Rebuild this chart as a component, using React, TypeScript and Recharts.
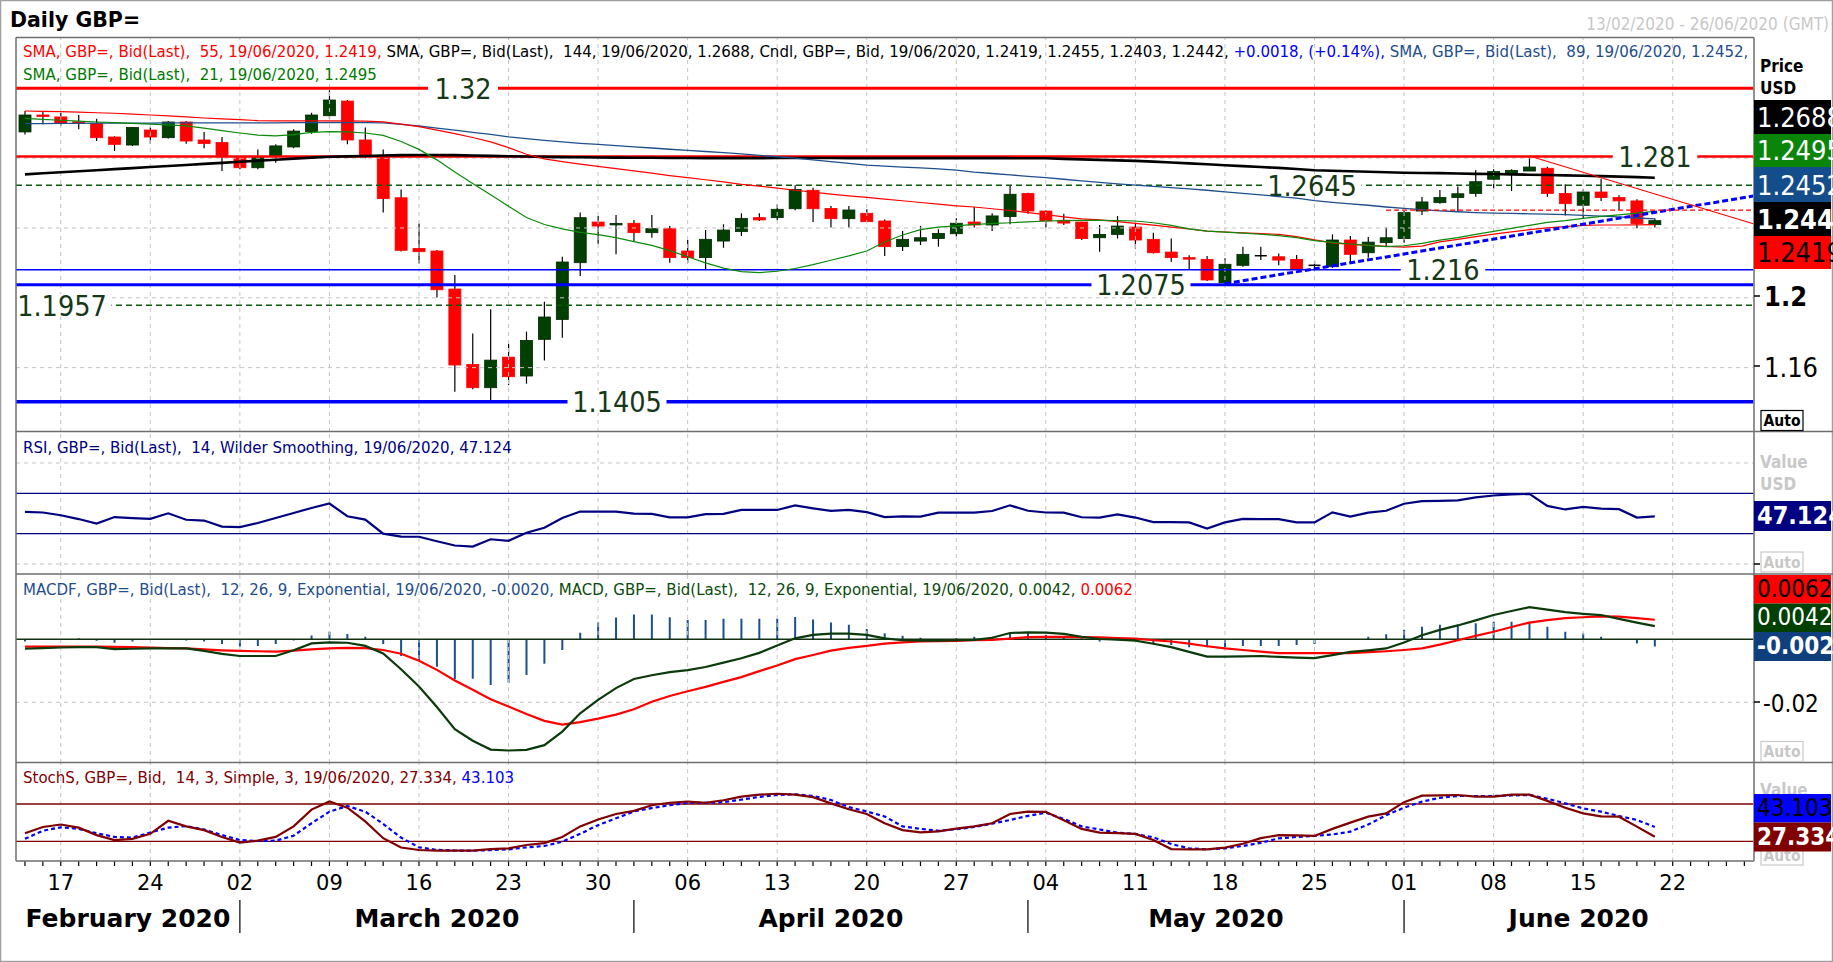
import React from 'react';
import { ComposedChart, Bar, Line, XAxis, YAxis, ReferenceLine } from 'recharts';

const W = 1833;
const H = 962;
const FONT = "'DejaVu Sans Condensed', 'Liberation Sans', sans-serif";
const FONT_WIDE = "'DejaVu Sans', sans-serif";

// ---------- categories / ticks ----------
const N_DAYS = 97; // 13/02/2020 .. 26/06/2020, weekdays
const MONDAY_IDX = [2, 7, 12, 17, 22, 27, 32, 37, 42, 47, 52, 57, 62, 67, 72, 77, 82, 87, 92];
const DAY_LABELS = ['17', '24', '02', '09', '16', '23', '30', '06', '13', '20', '27', '04', '11', '18', '25', '01', '08', '15', '22'];
const MONTHS = ['February 2020', 'March 2020', 'April 2020', 'May 2020', 'June 2020'];
const MONTH_CENTER_IDX = [5.75, 23, 45, 66.5, 86.75];
const MONTH_START_IDX = [12, 34, 56, 77];

// ---------- price candles ----------
const OPEN = [1.2950,1.3047,1.3036,1.3008,1.2998,1.2921,1.2875,1.2961,1.2917,1.3007,
 1.2904,1.2889,1.2803,1.2745,1.2812,1.2864,1.2952,1.3043,1.3127,1.2904,
 1.2816,1.2573,1.2283,1.2268,1.2050,1.1618,1.1485,1.1660,1.1552,1.1762,
 1.1876,1.2201,1.2434,1.2418,1.2427,1.2373,1.2396,1.2268,1.2230,1.2325,
 1.2379,1.2459,1.2459,1.2510,1.2616,1.2512,1.2453,1.2484,1.2440,1.2293,
 1.2325,1.2340,1.2367,1.2434,1.2417,1.2465,1.2598,1.2497,1.2444,1.2434,
 1.2344,1.2363,1.2405,1.2335,1.2262,1.2230,1.2220,1.2087,1.2186,1.2239,
 1.2235,1.2220,1.2184,1.2178,1.2331,1.2258,1.2316,1.2339,1.2497,1.2545,
 1.2574,1.2598,1.2679,1.2707,1.2726,1.2742,1.2598,1.2530,1.2606,1.2574,
 1.2555,1.2419];
const HIGH = [1.3070,1.3070,1.3060,1.3047,1.3025,1.2925,1.2978,1.2978,1.3013,1.3013,
 1.2950,1.2921,1.2812,1.2850,1.2879,1.2965,1.3060,1.3189,1.3133,1.2975,
 1.2850,1.2621,1.2426,1.2274,1.2130,1.1796,1.1934,1.1737,1.1806,1.1978,
 1.2235,1.2488,1.2469,1.2474,1.2446,1.2474,1.2411,1.2331,1.2388,1.2421,
 1.2484,1.2484,1.2535,1.2644,1.2631,1.2526,1.2526,1.2507,1.2449,1.2382,
 1.2411,1.2392,1.2455,1.2520,1.2484,1.2644,1.2601,1.2500,1.2482,1.2436,
 1.2417,1.2469,1.2430,1.2373,1.2340,1.2243,1.2239,1.2226,1.2293,1.2293,
 1.2254,1.2245,1.2211,1.2364,1.2354,1.2348,1.2402,1.2497,1.2577,1.2617,
 1.2637,1.2732,1.2736,1.2736,1.2812,1.2751,1.2650,1.2621,1.2682,1.2587,
 1.2564,1.2455];
const LOW = [1.2936,1.2994,1.2985,1.2965,1.2898,1.2841,1.2869,1.2883,1.2912,1.2883,
 1.2856,1.2726,1.2736,1.2736,1.2774,1.2856,1.2940,1.3024,1.2879,1.2799,
 1.2488,1.2265,1.2197,1.2001,1.1462,1.1476,1.1413,1.1500,1.1508,1.1641,
 1.1771,1.2125,1.2310,1.2249,1.2325,1.2344,1.2201,1.2201,1.2163,1.2287,
 1.2354,1.2440,1.2444,1.2501,1.2434,1.2402,1.2402,1.2436,1.2239,1.2268,
 1.2302,1.2293,1.2350,1.2402,1.2383,1.2421,1.2482,1.2402,1.2417,1.2331,
 1.2264,1.2340,1.2283,1.2254,1.2207,1.2163,1.2096,1.2075,1.2178,1.2216,
 1.2186,1.2163,1.2163,1.2172,1.2199,1.2230,1.2293,1.2316,1.2474,1.2539,
 1.2497,1.2579,1.2625,1.2612,1.2726,1.2579,1.2472,1.2455,1.2554,1.2503,
 1.2398,1.2403];
const CLOSE = [1.3047,1.3040,1.3001,1.3001,1.2917,1.2879,1.2975,1.2921,1.3007,1.2898,
 1.2883,1.2812,1.2745,1.2808,1.2870,1.2955,1.3047,1.3133,1.2904,1.2816,
 1.2568,1.2272,1.2264,1.2046,1.1615,1.1485,1.1643,1.1548,1.1756,1.1890,
 1.2205,1.2459,1.2411,1.2426,1.2373,1.2396,1.2230,1.2230,1.2335,1.2388,
 1.2455,1.2446,1.2507,1.2621,1.2510,1.2453,1.2503,1.2436,1.2293,1.2335,
 1.2344,1.2369,1.2427,1.2417,1.2469,1.2593,1.2497,1.2440,1.2428,1.2339,
 1.2363,1.2411,1.2331,1.2258,1.2230,1.2224,1.2102,1.2192,1.2249,1.2241,
 1.2216,1.2163,1.2186,1.2331,1.2249,1.2319,1.2344,1.2488,1.2549,1.2574,
 1.2596,1.2665,1.2723,1.2730,1.2749,1.2598,1.2539,1.2606,1.2574,1.2555,
 1.2425,1.2442];

// ---------- moving averages ----------
const SMA144 = [1.2707,1.2713,1.2719,1.2725,1.2731,1.2737,1.2743,1.2749,1.2755,1.2761,
 1.2767,1.2773,1.2779,1.2785,1.2791,1.2797,1.2803,1.2808,1.2810,1.2812,
 1.2815,1.2817,1.2818,1.2818,1.2817,1.2815,1.2813,1.2811,1.2809,1.2807,
 1.2806,1.2805,1.2804,1.2803,1.2802,1.2802,1.2801,1.2801,1.2800,1.2800,
 1.2800,1.2800,1.2801,1.2801,1.2801,1.2801,1.2800,1.2800,1.2800,1.2800,
 1.2800,1.2800,1.2800,1.2800,1.2800,1.2800,1.2799,1.2799,1.2796,1.2793,
 1.2790,1.2787,1.2784,1.2780,1.2775,1.2770,1.2765,1.2759,1.2754,1.2749,
 1.2744,1.2738,1.2731,1.2728,1.2725,1.2722,1.2719,1.2716,1.2715,1.2714,
 1.2712,1.2710,1.2709,1.2707,1.2705,1.2703,1.2701,1.2699,1.2697,1.2694,
 1.2691,1.2688];
const SMA89 = [1.2998,1.2998,1.2999,1.2999,1.3000,1.3000,1.3001,1.3001,1.3002,1.3002,
 1.3002,1.3002,1.3002,1.3002,1.3002,1.3003,1.3003,1.3004,1.3004,1.3003,
 1.3002,1.2993,1.2984,1.2972,1.2960,1.2948,1.2936,1.2922,1.2912,1.2902,
 1.2893,1.2885,1.2879,1.2872,1.2865,1.2858,1.2851,1.2844,1.2838,1.2831,
 1.2824,1.2816,1.2808,1.2800,1.2790,1.2780,1.2770,1.2760,1.2754,1.2749,
 1.2744,1.2739,1.2731,1.2720,1.2712,1.2704,1.2696,1.2688,1.2679,1.2670,
 1.2661,1.2652,1.2645,1.2638,1.2631,1.2624,1.2616,1.2607,1.2598,1.2589,
 1.2580,1.2571,1.2556,1.2547,1.2538,1.2530,1.2520,1.2512,1.2505,1.2498,
 1.2493,1.2488,1.2485,1.2483,1.2481,1.2479,1.2476,1.2472,1.2468,1.2463,
 1.2457,1.2452];
const SMA55 = [1.3070,1.3068,1.3066,1.3063,1.3060,1.3057,1.3052,1.3047,1.3042,1.3036,
 1.3030,1.3025,1.3020,1.3015,1.3013,1.3013,1.3013,1.3013,1.3013,1.3012,
 1.3008,1.2995,1.2980,1.2960,1.2940,1.2918,1.2893,1.2860,1.2822,1.2796,
 1.2780,1.2766,1.2753,1.2740,1.2727,1.2714,1.2700,1.2688,1.2676,1.2664,
 1.2650,1.2640,1.2628,1.2616,1.2605,1.2594,1.2584,1.2575,1.2565,1.2556,
 1.2546,1.2536,1.2527,1.2520,1.2510,1.2500,1.2488,1.2476,1.2464,1.2452,
 1.2446,1.2436,1.2426,1.2416,1.2405,1.2394,1.2382,1.2377,1.2372,1.2368,
 1.2363,1.2350,1.2332,1.2315,1.2306,1.2300,1.2294,1.2290,1.2296,1.2320,
 1.2335,1.2350,1.2365,1.2378,1.2390,1.2400,1.2408,1.2415,1.2417,1.2417,
 1.2418,1.2419];
const SMA21 = [1.3028,1.3022,1.3017,1.3012,1.3007,1.3003,1.2999,1.2995,1.2991,1.2985,
 1.2972,1.2958,1.2944,1.2932,1.2927,1.2935,1.2948,1.2952,1.2950,1.2944,
 1.2930,1.2895,1.2850,1.2790,1.2720,1.2655,1.2590,1.2525,1.2460,1.2420,
 1.2395,1.2375,1.2362,1.2345,1.2322,1.2300,1.2270,1.2235,1.2200,1.2170,
 1.2150,1.2144,1.2152,1.2168,1.2190,1.2215,1.2240,1.2268,1.2320,1.2360,
 1.2390,1.2405,1.2412,1.2420,1.2425,1.2430,1.2435,1.2440,1.2442,1.2444,
 1.2443,1.2442,1.2440,1.2430,1.2415,1.2395,1.2382,1.2376,1.2370,1.2364,
 1.2356,1.2345,1.2328,1.2318,1.2308,1.2300,1.2293,1.2298,1.2312,1.2330,
 1.2345,1.2363,1.2380,1.2398,1.2415,1.2432,1.2442,1.2455,1.2466,1.2475,
 1.2485,1.2495];

// ---------- indicators ----------
const RSI = [51.7,51.0,48.3,44.5,40.0,46.5,45.5,44.7,50.2,43.8,
 43.0,37.0,36.5,40.6,45.5,50.5,55.5,59.9,47.3,44.0,
 30.0,27.2,27.0,22.5,18.3,17.3,24.5,23.0,31.0,35.9,
 45.5,51.9,51.9,51.9,49.8,49.6,46.2,46.2,49.4,49.7,
 53.5,53.5,53.5,58.0,55.1,52.6,53.5,51.3,46.5,47.1,
 47.0,50.8,50.8,50.8,52.5,58.1,52.7,51.0,50.8,46.3,
 46.0,49.2,46.0,41.5,41.4,41.2,35.1,41.2,44.7,44.5,
 44.4,41.2,41.2,51.1,46.9,50.8,52.7,59.7,62.3,62.6,
 63.0,66.0,67.8,69.0,69.4,57.5,54.0,56.5,54.9,54.3,
 46.0,47.1];
const MACD = [-0.0030,-0.0028,-0.0026,-0.0025,-0.0025,-0.0031,-0.0030,-0.0029,-0.0029,-0.0029,
 -0.0037,-0.0046,-0.0053,-0.0053,-0.0053,-0.0035,-0.0013,-0.0010,-0.0011,-0.0021,
 -0.0045,-0.0095,-0.0150,-0.0215,-0.0285,-0.0322,-0.0350,-0.0353,-0.0351,-0.0336,
 -0.0293,-0.0235,-0.0192,-0.0155,-0.0126,-0.0114,-0.0104,-0.0098,-0.0088,-0.0074,
 -0.0060,-0.0043,-0.0020,0.0003,0.0014,0.0018,0.0018,0.0014,0.0003,-0.0003,
 -0.0004,-0.0004,-0.0003,-0.0002,0.0005,0.0020,0.0022,0.0021,0.0017,0.0008,
 0.0001,-0.0001,-0.0004,-0.0014,-0.0025,-0.0040,-0.0055,-0.0055,-0.0054,-0.0053,
 -0.0056,-0.0058,-0.0060,-0.0050,-0.0040,-0.0035,-0.0029,-0.0010,0.0013,0.0030,
 0.0044,0.0060,0.0077,0.0090,0.0102,0.0094,0.0086,0.0081,0.0077,0.0065,
 0.0053,0.0042];
const SIGNAL = [-0.0023,-0.0023,-0.0023,-0.0023,-0.0023,-0.0024,-0.0025,-0.0026,-0.0028,-0.0029,
 -0.0032,-0.0035,-0.0037,-0.0038,-0.0039,-0.0036,-0.0032,-0.0029,-0.0027,-0.0028,
 -0.0034,-0.0046,-0.0068,-0.0097,-0.0131,-0.0160,-0.0190,-0.0213,-0.0237,-0.0259,
 -0.0271,-0.0263,-0.0252,-0.0239,-0.0222,-0.0198,-0.0180,-0.0165,-0.0151,-0.0135,
 -0.0120,-0.0101,-0.0083,-0.0063,-0.0050,-0.0036,-0.0027,-0.0021,-0.0014,-0.0010,
 -0.0007,-0.0006,-0.0005,-0.0003,-0.0002,0.0002,0.0007,0.0008,0.0008,0.0007,
 0.0006,0.0004,0.0002,-0.0003,-0.0007,-0.0014,-0.0022,-0.0029,-0.0034,-0.0039,
 -0.0044,-0.0044,-0.0044,-0.0044,-0.0044,-0.0041,-0.0038,-0.0034,-0.0029,-0.0017,
 -0.0003,0.0011,0.0024,0.0039,0.0053,0.0061,0.0067,0.0070,0.0073,0.0072,
 0.0067,0.0062];
const HIST = [-0.0007,-0.0002,-0.0002,0.0003,-0.0005,-0.0011,-0.0007,-0.0002,-0.0001,-0.0004,
 -0.0007,-0.0015,-0.0023,-0.0021,-0.0015,-0.0004,0.0012,0.0024,0.0017,0.0008,
 -0.0015,-0.0053,-0.0068,-0.0087,-0.0126,-0.0125,-0.0145,-0.0138,-0.0113,-0.0078,
 -0.0034,0.0021,0.0053,0.0069,0.0079,0.0079,0.0070,0.0061,0.0061,0.0065,
 0.0065,0.0065,0.0065,0.0071,0.0063,0.0053,0.0046,0.0033,0.0019,0.0011,
 0.0005,0.0000,0.0003,0.0008,0.0008,0.0019,0.0019,0.0014,0.0008,0.0003,
 -0.0007,-0.0004,-0.0002,-0.0013,-0.0018,-0.0025,-0.0025,-0.0025,-0.0021,-0.0021,
 -0.0021,-0.0018,-0.0015,-0.0002,0.0000,0.0008,0.0016,0.0030,0.0040,0.0046,
 0.0046,0.0051,0.0056,0.0056,0.0056,0.0040,0.0024,0.0019,0.0008,0.0000,
 -0.0013,-0.0023];
const STOCH_K = [33,43,47,42,30,22,24,32,53,44,
 38,27,18,21,27,44,71,84,74,52,
 25,10,6,5,5,5,7.5,8.7,14,17,
 27,44,55,64,69,78,82,84,82,86,
 92,95,96.5,95,91,81,71.5,64,49,38,
 34.5,36,40.5,44,49,64,67.7,67.5,54,40,
 34,33,31.8,22,7.5,7.1,7.1,9.8,16,25,
 30,29.5,28.6,40,50,59.6,65,83,93.4,93.8,
 94.5,92,91.8,95,95,85,74,65,60,59.6,
 43.6,27.3];
const STOCH_D = [24,37,42.5,40,33,27,26,34,42,44.5,
 39,30,22,20.5,21,29,49,67.7,76.8,67.7,
 48,26,10.3,6.2,5.2,5.0,5.8,7.1,10.3,12.5,
 19.4,32,46,57,68,73.5,78,82,82,83,
 87,91.5,94.5,95.5,93,86.5,75,68,60,44,
 40,37,39.5,43,48.5,54.3,61,66,56,44,
 39,34,31.8,26.4,15.7,8.7,7.1,8.7,12.5,17.5,
 24.8,27,28.6,31,35.5,47,62,74,83.8,90,
 92.9,92.9,92.9,93.7,94.5,88.5,81,73,67.7,60.7,
 54.3,43.1];

// ---------- drawn levels and trend lines (data space) ----------
const LEVELS = [
  { v: 1.32, label: '1.32', color: '#ff0000', width: 3, dash: '' },
  { v: 1.281, label: '1.281', color: '#ff0000', width: 2.5, dash: '' },
  { v: 1.2645, label: '1.2645', color: '#0b5a0b', width: 1.5, dash: '6 4' },
  { v: 1.216, label: '1.216', color: '#0000ff', width: 1.5, dash: '' },
  { v: 1.2075, label: '1.2075', color: '#0000ff', width: 3, dash: '' },
  { v: 1.1957, label: '1.1957', color: '#0b5a0b', width: 1.5, dash: '6 4' },
  { v: 1.1405, label: '1.1405', color: '#0000ff', width: 3.5, dash: '' },
];
const TRENDS = [
  { from: [67, 1.2081], to: [96.5, 1.2583], color: '#0000ff', width: 3, dash: '6 3' },
  { from: [84, 1.2812], to: [96.5, 1.2424], color: '#ff0000', width: 1.2, dash: '' },
  { from: [76, 1.2502], to: [96.5, 1.2502], color: '#ff0000', width: 1.2, dash: '5 3' },
];
const PRICE_GRID = [1.16, 1.2, 1.24, 1.28, 1.32];

// ---------- layout / style (not data) ----------
const MARGIN = { top: 0, right: 79.7, bottom: 0, left: 16 };
const X_DOMAIN: [number, number] = [-0.5, 96.5];
const LABEL_X: Record<string, number> = { '1.32': 463, '1.281': 1655, '1.2645': 1312, '1.216': 1443, '1.2075': 1141, '1.1957': 62, '1.1405': 617 };
const FRAME = '#6e6e6e';
const GRID = '#c4c4c4';

const rows = Array.from({ length: N_DAYS }, (_, i) => ({
  i,
  o: OPEN[i] ?? null, h: HIGH[i] ?? null, l: LOW[i] ?? null, c: CLOSE[i] ?? null,
  s21: SMA21[i] ?? null, s55: SMA55[i] ?? null, s89: SMA89[i] ?? null, s144: SMA144[i] ?? null,
  rsi: RSI[i] ?? null, macd: MACD[i] ?? null, sig: SIGNAL[i] ?? null, hist: HIST[i] ?? null,
  k: STOCH_K[i] ?? null, d: STOCH_D[i] ?? null,
}));
const ALL_IDX = rows.map((r) => r.i);

const Candle = (props: any) => {
  const { x, y, width, height, payload } = props;
  if (!payload || payload.h == null) return null;
  const top = Math.min(y, y + height);
  const span = Math.abs(height);
  const { o, h, l, c } = payload;
  const pix = (v: number) => (h === l ? top : top + ((h - v) / (h - l)) * span);
  const cx = x + width / 2;
  const bw = 12;
  const yo = pix(o);
  const yc = pix(c);
  const doji = Math.abs(c - o) < 0.00025;
  const up = c >= o;
  const bTop = Math.min(yo, yc);
  const bH = Math.max(Math.abs(yo - yc), 1.5);
  return (
    <g>
      <line x1={cx} x2={cx} y1={top} y2={top + span} stroke="#000" strokeWidth={1.2} />
      {doji ? (
        <line x1={cx - bw / 2} x2={cx + bw / 2} y1={yc} y2={yc} stroke="#000" strokeWidth={1.5} />
      ) : (
        <rect x={cx - bw / 2} y={bTop} width={bw} height={bH} fill={up ? '#023f02' : '#ff0000'} stroke={up ? '#012a01' : '#ff0000'} strokeWidth={0.8} />
      )}
    </g>
  );
};

const HistBar = (props: any) => {
  const { x, y, width, height, payload } = props;
  if (!payload || payload.hist == null) return null;
  const cx = x + width / 2;
  return <line x1={cx} x2={cx} y1={y} y2={y + height} stroke="#1b4f8f" strokeWidth={2} />;
};

const LevelLabel = (props: any) => {
  const { viewBox, txt } = props;
  if (!viewBox) return null;
  const cx = LABEL_X[txt];
  const y = viewBox.y;
  const w = txt.length * 14.5 + 12;
  return (
    <g>
      <rect x={cx - w / 2} y={y - 11} width={w} height={22} fill="#ffffff" />
      <text x={cx} y={y + 10.5} textAnchor="middle" fontSize={28.5} fill="#173817" fontFamily={FONT}>{txt}</text>
    </g>
  );
};

const vGrid = (prefix: string) =>
  MONDAY_IDX.map((m) => (
    <ReferenceLine key={prefix + m} x={m} stroke={GRID} strokeDasharray="4 4" strokeWidth={1} />
  ));

const DayTick = (props: any) => {
  const { x, y, payload } = props;
  const k = MONDAY_IDX.indexOf(payload.value);
  if (k < 0) return <g />;
  return (
    <text x={x} y={y + 24} textAnchor="middle" fontSize={21} fill="#000" fontFamily={FONT_WIDE}>{DAY_LABELS[k]}</text>
  );
};

const MonthTick = (props: any) => {
  const { x, y, payload } = props;
  if (MONTH_START_IDX.includes(payload.value)) {
    return <line x1={x} x2={x} y1={y + 3} y2={y + 36} stroke="#000" strokeWidth={1.2} />;
  }
  const k = MONTH_CENTER_IDX.indexOf(payload.value);
  if (k < 0) return <g />;
  return (
    <text x={x} y={y + 30} textAnchor="middle" fontSize={25} fontWeight="bold" fill="#000" fontFamily={FONT_WIDE}>{MONTHS[k]}</text>
  );
};

function MainChart() {
  return (
    <ComposedChart width={W} height={394} data={rows} margin={MARGIN}>
      <XAxis dataKey="i" type="number" domain={X_DOMAIN} hide allowDataOverflow />
      <YAxis type="number" domain={[1.12313, 1.34881]} hide allowDataOverflow />
      {vGrid('m')}
      {PRICE_GRID.map((g) => (
        <ReferenceLine key={'pg' + g} y={g} stroke={GRID} strokeDasharray="4 4" />
      ))}
      {LEVELS.map((lv) => (
        <ReferenceLine key={'lv' + lv.v} y={lv.v} stroke={lv.color} strokeWidth={lv.width} strokeDasharray={lv.dash || undefined} label={<LevelLabel txt={lv.label} />} />
      ))}
      <Line dataKey="s144" stroke="#000000" strokeWidth={2.6} dot={false} isAnimationActive={false} />
      <Line dataKey="s89" stroke="#1f4e8c" strokeWidth={1.3} dot={false} isAnimationActive={false} />
      <Line dataKey="s55" stroke="#ff0000" strokeWidth={1.2} dot={false} isAnimationActive={false} />
      <Line dataKey="s21" stroke="#0a8a0a" strokeWidth={1.2} dot={false} isAnimationActive={false} />
      {TRENDS.map((t, k) => (
        <ReferenceLine key={'tr' + k} segment={[{ x: t.from[0], y: t.from[1] }, { x: t.to[0], y: t.to[1] }]} stroke={t.color} strokeWidth={t.width} strokeDasharray={t.dash || undefined} />
      ))}
      <Bar dataKey={(r: any) => (r.h == null ? null : [r.l, r.h])} barSize={12} shape={<Candle />} isAnimationActive={false} />
    </ComposedChart>
  );
}

function RsiChart() {
  return (
    <ComposedChart width={W} height={142} data={rows} margin={MARGIN}>
      <XAxis dataKey="i" type="number" domain={X_DOMAIN} hide allowDataOverflow />
      <YAxis type="number" domain={[-9.9, 130.7]} hide allowDataOverflow />
      {vGrid('r')}
      <ReferenceLine y={100} stroke={GRID} strokeDasharray="4 4" />
      <ReferenceLine y={0} stroke={GRID} strokeDasharray="4 4" />
      <ReferenceLine y={70} stroke="#000080" strokeWidth={1.3} />
      <ReferenceLine y={30} stroke="#000080" strokeWidth={1.3} />
      <Line dataKey="rsi" stroke="#000080" strokeWidth={2.2} dot={false} isAnimationActive={false} />
    </ComposedChart>
  );
}

function MacdChart() {
  return (
    <ComposedChart width={W} height={189} data={rows} margin={MARGIN}>
      <XAxis dataKey="i" type="number" domain={X_DOMAIN} hide allowDataOverflow />
      <YAxis type="number" domain={[-0.03927, 0.02073]} hide allowDataOverflow />
      {vGrid('c')}
      <ReferenceLine y={-0.02} stroke={GRID} strokeDasharray="4 4" />
      <Bar dataKey="hist" barSize={2} shape={<HistBar />} isAnimationActive={false} />
      <ReferenceLine y={0} stroke="#123012" strokeWidth={1.6} />
      <Line dataKey="sig" stroke="#ff0000" strokeWidth={2.2} dot={false} isAnimationActive={false} />
      <Line dataKey="macd" stroke="#0b3a0b" strokeWidth={2.2} dot={false} isAnimationActive={false} />
    </ComposedChart>
  );
}

function StochChart() {
  return (
    <ComposedChart width={W} height={200} data={rows} margin={MARGIN}>
      <XAxis dataKey="i" type="number" domain={X_DOMAIN} allowDataOverflow ticks={ALL_IDX} interval={0} tickSize={5} tickMargin={0} tickLine={{ stroke: '#000', strokeWidth: 1.2 }} axisLine={false} height={36} tick={<DayTick />} />
      <XAxis xAxisId="m" dataKey="i" type="number" domain={X_DOMAIN} allowDataOverflow ticks={[...MONTH_CENTER_IDX, ...MONTH_START_IDX]} interval={0} tickSize={0} tickMargin={0} tickLine={false} axisLine={false} height={65} tick={<MonthTick />} />
      <YAxis type="number" domain={[-11.7, 147.6]} hide allowDataOverflow />
      {vGrid('s')}
      <ReferenceLine y={80} stroke="#800000" strokeWidth={1.3} />
      <ReferenceLine y={20} stroke="#800000" strokeWidth={1.3} />
      <Line dataKey="d" stroke="#0000ff" strokeWidth={2.2} strokeDasharray="4 3" dot={false} isAnimationActive={false} />
      <Line dataKey="k" stroke="#800000" strokeWidth={2.2} dot={false} isAnimationActive={false} />
    </ComposedChart>
  );
}

const LEG_MAIN_1 = [
  { t: 'SMA, GBP=, Bid(Last),  55, 19/06/2020, 1.2419, ', c: '#ff0000' },
  { t: 'SMA, GBP=, Bid(Last),  144, 19/06/2020, 1.2688, Cndl, GBP=, Bid, 19/06/2020, 1.2419, 1.2455, 1.2403, 1.2442, ', c: '#000000' },
  { t: '+0.0018, (+0.14%), ', c: '#0000ff' },
  { t: 'SMA, GBP=, Bid(Last),  89, 19/06/2020, 1.2452,', c: '#1f4e8c' },
];
const LEG_MAIN_2 = [{ t: 'SMA, GBP=, Bid(Last),  21, 19/06/2020, 1.2495', c: '#007a00' }];
const LEG_RSI = [{ t: 'RSI, GBP=, Bid(Last),  14, Wilder Smoothing, 19/06/2020, 47.124', c: '#000080' }];
const LEG_MACD = [
  { t: 'MACDF, GBP=, Bid(Last),  12, 26, 9, Exponential, 19/06/2020, -0.0020, ', c: '#1f4e8c' },
  { t: 'MACD, GBP=, Bid(Last),  12, 26, 9, Exponential, 19/06/2020, 0.0042, ', c: '#0b4a0b' },
  { t: '0.0062', c: '#ff0000' },
];
const LEG_STOCH = [
  { t: 'StochS, GBP=, Bid,  14, 3, Simple, 3, 19/06/2020, 27.334, ', c: '#800000' },
  { t: '43.103', c: '#0000ff' },
];

const Legend = ({ y, parts }: { y: number; parts: { t: string; c: string }[] }) => (
  <text x={23} y={y} fontSize={16.7} fontFamily={FONT} style={{ whiteSpace: 'pre' }}>
    {parts.map((p, k) => (
      <tspan key={k} fill={p.c}>{p.t}</tspan>
    ))}
  </text>
);

const ValueBox = ({ y, h, bg, fg, txt, bold, size }: any) => (
  <g>
    <rect x={1754} y={y} width={77} height={h} fill={bg} />
    <text x={1757} y={y + h - 7} fontSize={size || 27} fill={fg} fontWeight={bold ? 'bold' : 'normal'} fontFamily={FONT}>{txt}</text>
  </g>
);

const AutoBox = ({ y, grey }: any) => (
  <g>
    <rect x={1761} y={y} width={42} height={20} fill="#fff" stroke={grey ? '#c8c8c8' : '#000'} strokeWidth={1.2} />
    <text x={1782} y={y + 15.5} textAnchor="middle" fontSize={15.5} fontWeight="bold" fill={grey ? '#c8c8c8' : '#000'} fontFamily={FONT}>Auto</text>
  </g>
);

function Overlay() {
  return (
    <svg width={W} height={H} style={{ position: 'absolute', left: 0, top: 0, pointerEvents: 'none' }}>
      <rect x={0.5} y={0.5} width={W - 1} height={H - 1} fill="none" stroke="#a0a0a0" strokeWidth={1.5} />
      <text x={10} y={27} fontSize={20.5} fontWeight="bold" fontFamily={FONT_WIDE} fill="#000">Daily GBP=</text>
      <text x={1829} y={30} textAnchor="end" fontSize={17} fontFamily={FONT} fill="#c8c8c8">13/02/2020 - 26/06/2020 (GMT)</text>

      {/* frame lines */}
      <line x1={16} x2={1754} y1={37.5} y2={37.5} stroke={FRAME} strokeWidth={1.5} />
      <line x1={16} x2={16} y1={37.5} y2={861} stroke={FRAME} strokeWidth={1.5} />
      <line x1={1754} x2={1754} y1={37.5} y2={861} stroke={FRAME} strokeWidth={1.5} />
      <line x1={16} x2={W} y1={431.5} y2={431.5} stroke={FRAME} strokeWidth={1.5} />
      <line x1={16} x2={W} y1={574} y2={574} stroke={FRAME} strokeWidth={1.5} />
      <line x1={16} x2={W} y1={762.5} y2={762.5} stroke={FRAME} strokeWidth={1.5} />
      <line x1={16} x2={1754} y1={861} y2={861} stroke={FRAME} strokeWidth={1.5} />

      {/* legends */}
      <Legend y={56.5} parts={LEG_MAIN_1} />
      <Legend y={79.5} parts={LEG_MAIN_2} />
      <Legend y={453} parts={LEG_RSI} />
      <Legend y={595} parts={LEG_MACD} />
      <Legend y={783} parts={LEG_STOCH} />

      {/* main right axis */}
      <text x={1760} y={72} fontSize={17} fontWeight="bold" fontFamily={FONT} fill="#000">Price</text>
      <text x={1760} y={94} fontSize={17} fontWeight="bold" fontFamily={FONT} fill="#000">USD</text>
      <ValueBox y={100} h={34} bg="#000000" fg="#ffffff" txt="1.2688" />
      <ValueBox y={134} h={33} bg="#0a850a" fg="#ffffff" txt="1.2495" />
      <ValueBox y={167} h={35} bg="#134d8c" fg="#ffffff" txt="1.2452" />
      <ValueBox y={202} h={34} bg="#000000" fg="#ffffff" txt="1.244" bold />
      <ValueBox y={236} h={33} bg="#ff0000" fg="#000000" txt="1.2419" />
      <line x1={1754} x2={1760} y1={296} y2={296} stroke="#000" strokeWidth={1.5} />
      <text x={1764} y={306} fontSize={27} fontWeight="bold" fontFamily={FONT} fill="#000">1.2</text>
      <line x1={1754} x2={1760} y1={366} y2={366} stroke="#000" strokeWidth={1.5} />
      <text x={1764} y={376.5} fontSize={27} fontFamily={FONT} fill="#000">1.16</text>
      <AutoBox y={410.5} />

      {/* RSI right axis */}
      <text x={1760} y={468} fontSize={17} fontWeight="bold" fontFamily={FONT} fill="#c8c8c8">Value</text>
      <text x={1760} y={490} fontSize={17} fontWeight="bold" fontFamily={FONT} fill="#c8c8c8">USD</text>
      <ValueBox y={501} h={30} bg="#000080" fg="#ffffff" txt="47.124" bold size={25} />
      <line x1={1754} x2={1760} y1={564} y2={564} stroke="#000" strokeWidth={1.5} />
      <AutoBox y={552} grey />

      {/* MACD right axis */}
      <ValueBox y={575} h={28.5} bg="#ff0000" fg="#000000" txt="0.0062" size={24} />
      <ValueBox y={603.5} h={28.5} bg="#004000" fg="#ffffff" txt="0.0042" size={24} />
      <ValueBox y={632} h={29} bg="#0f3f7d" fg="#ffffff" txt="-0.002" bold size={24} />
      <line x1={1754} x2={1760} y1={702} y2={702} stroke="#000" strokeWidth={1.5} />
      <text x={1763} y={711.5} fontSize={24} fontFamily={FONT} fill="#000">-0.02</text>
      <AutoBox y={741.5} grey />

      {/* Stoch right axis */}
      <AutoBox y={845} grey />
      <text x={1760} y={796} fontSize={17} fontWeight="bold" fontFamily={FONT} fill="#c8c8c8">Value</text>
      <ValueBox y={794} h={28.5} bg="#0000ff" fg="#000000" txt="43.103" size={24} />
      <ValueBox y={822.5} h={29} bg="#800000" fg="#ffffff" txt="27.334" bold size={24} />
    </svg>
  );
}

export default function App() {
  return (
    <div style={{ position: 'absolute', left: 0, top: 0, width: W, height: H, background: '#ffffff', overflow: 'hidden' }}>
      <div style={{ position: 'absolute', left: 0, top: 37.5 }}><MainChart /></div>
      <div style={{ position: 'absolute', left: 0, top: 432 }}><RsiChart /></div>
      <div style={{ position: 'absolute', left: 0, top: 574 }}><MacdChart /></div>
      <div style={{ position: 'absolute', left: 0, top: 762 }}><StochChart /></div>
      <Overlay />
    </div>
  );
}
